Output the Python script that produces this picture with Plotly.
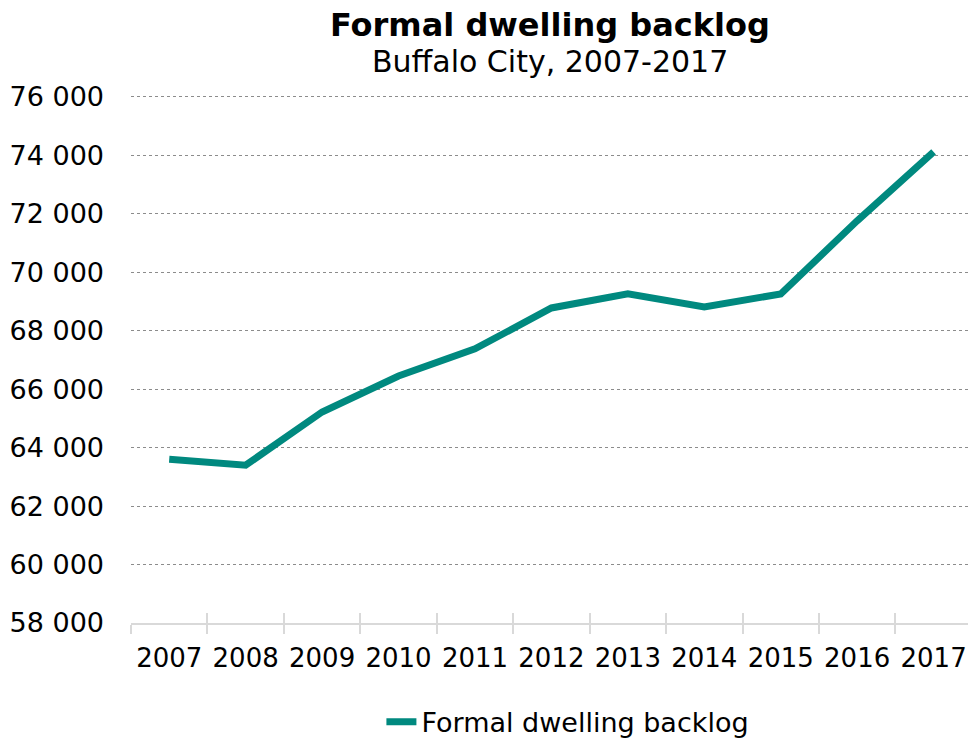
import plotly.graph_objects as go

years = ["2007", "2008", "2009", "2010", "2011", "2012", "2013", "2014", "2015", "2016", "2017"]
backlog = [63600, 63400, 65220, 66450, 67380, 68780, 69260, 68810, 69260, 71760, 74120]
series_name = "Formal dwelling backlog"
title = "Formal dwelling backlog"
subtitle = "Buffalo City, 2007-2017"

FONT = "DejaVu Sans"
TEAL = "#00897F"

fig = go.Figure()
fig.add_trace(go.Scatter(
    x=years, y=backlog, mode="lines", name=series_name,
    line=dict(color=TEAL, width=7),
))
# helper trace to draw inside tick marks on a matching overlay axis
fig.add_trace(go.Scatter(
    x=years, y=backlog, mode="lines", xaxis="x2", showlegend=False,
    hoverinfo="skip", line=dict(color="rgba(0,0,0,0)", width=0),
))

# the last category band runs slightly past the right edge, as in the reference
xrange = [-0.5, len(years) - 0.55]

fig.update_layout(
    width=968, height=740,
    margin=dict(l=131, r=0, t=94, b=117),
    paper_bgcolor="white", plot_bgcolor="white",
    font=dict(family=FONT, size=27, color="#000000"),
    separators=". ",
    showlegend=True,
    legend=dict(orientation="h", x=0.522, xanchor="center", yref="container",
                y=0.024, yanchor="middle", font=dict(size=27), itemwidth=30),
    xaxis=dict(type="category", range=xrange, automargin=False, tickangle=0,
               showgrid=False, showline=True, linecolor="#d9d9d9", linewidth=1.5,
               ticks="outside", ticklen=9, tickcolor="#d9d9d9", tickwidth=1.5,
               tickson="boundaries", ticklabelstandoff=11, tickfont=dict(size=26)),
    xaxis2=dict(type="category", overlaying="x", range=xrange, side="bottom", anchor="y",
                automargin=False, showgrid=False, showline=False, showticklabels=False,
                ticks="inside", ticklen=10, tickcolor="#d9d9d9", tickwidth=1.5,
                tickson="boundaries"),
    yaxis=dict(range=[58000, 76100], dtick=2000, tick0=58000, showgrid=True, automargin=False,
               gridcolor="#8c8c8c", griddash="dot", gridwidth=1,
               zeroline=False, showline=False, ticks="", ticklabelstandoff=26,
               tickformat=",d", tickfont=dict(size=27)),
    annotations=[
        dict(text="<b>" + title + "</b>", x=0.5, y=1.131, xref="paper", yref="paper",
             xanchor="center", yanchor="middle", showarrow=False, font=dict(size=32)),
        dict(text=subtitle, x=0.5, y=1.061, xref="paper", yref="paper",
             xanchor="center", yanchor="middle", showarrow=False, font=dict(size=30)),
    ],
)

fig.write_html("out.html", config={"displayModeBar": False})

# remove the default page margin so the figure sits at the window's top-left corner
with open("out.html", encoding="utf-8") as f:
    html = f.read()
html = html.replace("<body>", '<body style="margin:0;padding:0;">', 1)
with open("out.html", "w", encoding="utf-8") as f:
    f.write(html)
